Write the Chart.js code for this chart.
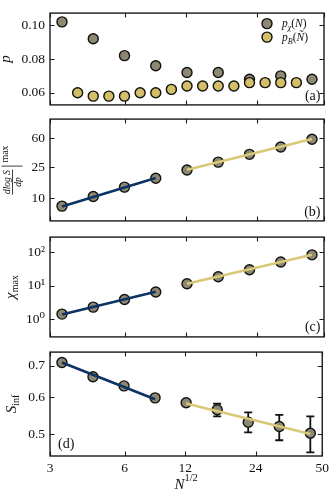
<!DOCTYPE html>
<html lang="en">
<head>
<meta charset="UTF-8">
<title>Finite-size scaling</title>
<style>
  body { margin: 0; background: #fff; }
  #wrap { position: relative; width: 333px; height: 496px; overflow: hidden; }
  .panel { position: absolute; left: 0; width: 333px; }
  .panel canvas { display: block; }
</style>
</head>
<body>
<div id="wrap">
  <div class="panel" style="top:0px"><canvas id="chartA" width="333" height="118"></canvas></div>
  <div class="panel" style="top:106px"><canvas id="chartB" width="333" height="128"></canvas></div>
  <div class="panel" style="top:224px"><canvas id="chartC" width="333" height="126"></canvas></div>
  <div class="panel" style="top:339px"><canvas id="chartD" width="333" height="157"></canvas></div>
</div>
<script src="https://cdn.jsdelivr.net/npm/chart.js"></script>
<script>
// position of each system size along the (hand-labelled) N^1/2 axis
const sizePos = [0, 1, 2, 3, 4, 5, 6, 7, 8];
const sizePosB = [0.5, 1, 1.5, 2, 2.5, 3, 3.5, 4, 4.5, 5, 5.5, 6, 6.5, 7, 7.5];
const xTickLabels = ['3', '6', '12', '24', '50'];
const xTickAt = [-0.384, 2.02, 3.97, 6.24, 8.384];

const pChi = [0.102, 0.092, 0.082, 0.076, 0.072, 0.072, 0.068, 0.070, 0.068];
const pB = [0.060, 0.058, 0.058, 0.058, 0.060, 0.060, 0.062, 0.064, 0.064, 0.064, 0.064, 0.066, 0.066, 0.066, 0.066];
const dlogS = [7.9, 10.5, 13.9, 18.1, 23.2, 29.3, 37.0, 46.0, 58.0];
const chiMax = [1.43, 2.3, 3.9, 6.5, 11.4, 18.5, 29.7, 50.4, 82.6];
const sInf = [0.711, 0.663, 0.634, 0.598, 0.584, 0.564, 0.531, 0.520, 0.503];
const sInfLow = [null, null, null, null, null, 0.546, 0.505, 0.486, 0.458];
const sInfHigh = [null, null, null, null, null, 0.581, 0.557, 0.550, 0.546];

// power-law fits, small and large sizes
const fitSmallX = [0, 3];
const fitLargeX = [4, 8];
const dlogSFitSmall = [7.8, 18.3];
const dlogSFitLarge = [23.4, 58.5];
const chiFitSmall = [1.38, 6.6];
const chiFitLarge = [11.4, 82.6];
const sInfFitSmall = [0.711, 0.594];
const sInfFitLarge = [0.582, 0.501];

const yTicksA = [0.06, 0.08, 0.10];
const yLabelsA = ['0.06', '0.08', '0.10'];
const yTicksB = [10, 25, 60];
const yLabelsB = ['10', '25', '60'];
const yTicksC = [1, 10, 100];
const yLabelsC = ['10\u2070', '10\u00b9', '10\u00b2'];
const yTicksD = [0.5, 0.6, 0.7];
const yLabelsD = ['0.5', '0.6', '0.7'];

const GRAY = '#8e8873';
const YELLOW = '#d3bf68';
const BLUE = '#0b3364';
const FITYEL = '#d8c877';
const INK = '#111';
const SERIF = '"Liberation Serif", "DejaVu Serif", serif';

const pts = (xs, ys) => xs.map((x, i) => ({ x: x, y: ys[i] }));

function markers(data, color, order) {
    return { data: data, backgroundColor: color, borderColor: INK, borderWidth: 1.4, pointRadius: 5, order: order };
}
function fitLine(data, color) {
    return { data: data, showLine: true, borderColor: color, borderWidth: 2.6, pointRadius: 0, order: 0 };
}

function runs(ctx, parts, x, y, align) {
    let w = 0;
    parts.forEach(p => { ctx.font = p[1]; w += ctx.measureText(p[0]).width; });
    let cx = align === 'center' ? x - w / 2 : (align === 'right' ? x - w : x);
    ctx.textAlign = 'left';
    ctx.textBaseline = 'alphabetic';
    parts.forEach(p => {
        ctx.font = p[1];
        ctx.fillText(p[0], cx, y + (p[2] || 0));
        cx += ctx.measureText(p[0]).width;
    });
}

function vtitle(ctx, cx, cy, parts) {
    ctx.save();
    ctx.translate(cx, cy);
    ctx.rotate(-Math.PI / 2);
    runs(ctx, parts, 0, 0, 'center');
    ctx.restore();
}

function panelLabel(ctx, text, x, y, align) {
    ctx.font = '14px ' + SERIF;
    ctx.textAlign = align;
    ctx.textBaseline = 'middle';
    ctx.fillText(text, x, y);
}

function decor(cfg) {
    return {
        id: 'decor',
        beforeDatasetsDraw(chart) {
            if (cfg.errors) cfg.errors(chart);
        },
        afterDatasetsDraw(chart) {
            const ctx = chart.ctx, a = chart.chartArea;
            const x = chart.scales.x, y = chart.scales.y;
            ctx.save();
            ctx.strokeStyle = '#1a1a1a';
            ctx.lineWidth = 1.4;
            ctx.strokeRect(a.left, a.top, a.width, a.height);
            ctx.lineWidth = 1.1;
            ctx.beginPath();
            xTickAt.forEach(v => {
                const px = Math.round(x.getPixelForValue(v)) + 0.5;
                ctx.moveTo(px, a.top); ctx.lineTo(px, a.top + 4.5);
                ctx.moveTo(px, a.bottom); ctx.lineTo(px, a.bottom - 4.5);
            });
            cfg.yTicks.forEach(v => {
                const py = Math.round(y.getPixelForValue(v)) + 0.5;
                ctx.moveTo(a.left, py); ctx.lineTo(a.left + 4.5, py);
                ctx.moveTo(a.right, py); ctx.lineTo(a.right - 4.5, py);
            });
            ctx.stroke();
            ctx.fillStyle = INK;
            ctx.strokeStyle = INK;
            cfg.text(ctx, a);
            ctx.restore();
        }
    };
}

function panel(id, cfg) {
    return new Chart(document.getElementById(id), {
        type: 'scatter',
        data: { datasets: cfg.datasets },
        options: {
            responsive: false,
            animation: false,
            layout: { padding: { left: 0, right: 9, top: cfg.padTop, bottom: cfg.last ? 0 : 10 } },
            plugins: { legend: { display: false }, tooltip: { enabled: false } },
            scales: {
                x: {
                    type: 'linear',
                    min: xTickAt[0],
                    max: xTickAt[xTickAt.length - 1],
                    display: !!cfg.last,
                    grid: { display: false, drawTicks: false },
                    border: { display: false },
                    afterBuildTicks: s => { s.ticks = xTickAt.map(v => ({ value: v })); },
                    afterFit: s => { s.height = cfg.last ? 40 : 0; },
                    ticks: {
                        autoSkip: false, maxRotation: 0, padding: 4, color: INK,
                        font: { family: SERIF, size: 13.5 },
                        callback: (v, i) => xTickLabels[i]
                    }
                },
                y: {
                    type: cfg.yType,
                    min: cfg.yMin,
                    max: cfg.yMax,
                    grid: { display: false, drawTicks: false },
                    border: { display: false },
                    afterBuildTicks: s => { s.ticks = cfg.yTicks.map(v => ({ value: v })); },
                    afterFit: s => { s.width = 50; },
                    ticks: {
                        padding: 5, color: INK,
                        font: { family: SERIF, size: 13.5 },
                        callback: (v, i) => cfg.yLabels[i]
                    }
                }
            }
        },
        plugins: [decor(cfg)]
    });
}

const IT = s => 'italic ' + s + 'px ' + SERIF;
const UP = s => s + 'px ' + SERIF;

// (a) transition points
panel('chartA', {
    padTop: 2, yType: 'linear', yMin: 0.0528, yMax: 0.1072,
    yTicks: yTicksA, yLabels: yLabelsA,
    datasets: [
        markers(pts(sizePosB, pB), YELLOW, 0),
        markers(pts(sizePos, pChi), GRAY, 1)
    ],
    text(ctx, a) {
        vtitle(ctx, 9.5, (a.top + a.bottom) / 2, [['p', IT(15)]]);
        panelLabel(ctx, '(a)', a.right - 3.5, a.bottom - 8.5, 'right');
        const lx = a.right - 57;
        [[a.top + 10.5, GRAY], [a.top + 24, YELLOW]].forEach(r => {
            ctx.beginPath();
            ctx.arc(lx, r[0], 5, 0, Math.PI * 2);
            ctx.fillStyle = r[1];
            ctx.fill();
            ctx.lineWidth = 1.4;
            ctx.stroke();
        });
        ctx.fillStyle = INK;
        runs(ctx, [['p', IT(11.5)], ['\u03c7', IT(8), 3], ['(', UP(11.5)], ['N', IT(11.5)], [')', UP(11.5)]], lx + 15, a.top + 14, 'left');
        runs(ctx, [['p', IT(11.5)], ['B', IT(8), 3], ['(', UP(11.5)], ['\u00d1', IT(11.5)], [')', UP(11.5)]], lx + 15, a.top + 27.5, 'left');
    }
});

// (b) max slope of log S
panel('chartB', {
    padTop: 10, yType: 'logarithmic', yMin: 5.08, yMax: 105.8,
    yTicks: yTicksB, yLabels: yLabelsB,
    datasets: [
        fitLine(pts(fitSmallX, dlogSFitSmall), BLUE),
        fitLine(pts(fitLargeX, dlogSFitLarge), FITYEL),
        markers(pts(sizePos, dlogS), GRAY, 1)
    ],
    text(ctx, a) {
        ctx.save();
        ctx.translate(12.5, (a.top + a.bottom) / 2);
        ctx.rotate(-Math.PI / 2);
        ctx.textBaseline = 'alphabetic';
        ctx.font = IT(9.5);
        const wNum = ctx.measureText('dlog S').width;
        const wDen = ctx.measureText('dp').width;
        ctx.font = UP(10);
        const wMax = ctx.measureText('max').width;
        const fw = Math.max(wNum, wDen) + 1;
        const x0 = -(fw + 7 + wMax) / 2;
        ctx.textAlign = 'center';
        ctx.font = IT(9.5);
        ctx.fillText('dlog S', x0 + fw / 2, -2.5);
        ctx.fillText('dp', x0 + fw / 2, 8.5);
        ctx.lineWidth = 0.8;
        ctx.beginPath();
        ctx.moveTo(x0, 0); ctx.lineTo(x0 + fw, 0);
        ctx.moveTo(x0 + fw + 3.5, -11); ctx.lineTo(x0 + fw + 3.5, 10);
        ctx.stroke();
        ctx.textAlign = 'left';
        ctx.font = UP(10);
        ctx.fillText('max', x0 + fw + 7, -5);
        ctx.restore();
        panelLabel(ctx, '(b)', a.right - 3.5, a.bottom - 9, 'right');
    }
});

// (c) susceptibility peak
panel('chartC', {
    padTop: 10, yType: 'logarithmic', yMin: 0.316, yMax: 278,
    yTicks: yTicksC, yLabels: yLabelsC,
    datasets: [
        fitLine(pts(fitSmallX, chiFitSmall), BLUE),
        fitLine(pts(fitLargeX, chiFitLarge), FITYEL),
        markers(pts(sizePos, chiMax), GRAY, 1)
    ],
    text(ctx, a) {
        vtitle(ctx, 15, (a.top + a.bottom) / 2, [['\u03c7', IT(15)], ['max', UP(10), 3]]);
        panelLabel(ctx, '(c)', a.right - 3.5, a.bottom - 9.5, 'right');
    }
});

// (d) S at the inflection point
panel('chartD', {
    padTop: 10, last: true, yType: 'logarithmic', yMin: 0.4527, yMax: 0.748,
    yTicks: yTicksD, yLabels: yLabelsD,
    datasets: [
        fitLine(pts(fitSmallX, sInfFitSmall), BLUE),
        fitLine(pts(fitLargeX, sInfFitLarge), FITYEL),
        markers(pts(sizePos, sInf), GRAY, 1)
    ],
    errors(chart) {
        const ctx = chart.ctx, x = chart.scales.x, y = chart.scales.y;
        ctx.save();
        ctx.strokeStyle = INK;
        ctx.lineWidth = 1.8;
        ctx.beginPath();
        sizePos.forEach((u, i) => {
            if (sInfLow[i] === null) return;
            const px = x.getPixelForValue(u);
            const y1 = y.getPixelForValue(sInfLow[i]);
            const y2 = y.getPixelForValue(sInfHigh[i]);
            ctx.moveTo(px, y1); ctx.lineTo(px, y2);
            ctx.moveTo(px - 4, y1); ctx.lineTo(px + 4, y1);
            ctx.moveTo(px - 4, y2); ctx.lineTo(px + 4, y2);
        });
        ctx.stroke();
        ctx.restore();
    },
    text(ctx, a) {
        vtitle(ctx, 16, (a.top + a.bottom) / 2, [['S', IT(15)], ['inf', UP(10), 3]]);
        panelLabel(ctx, '(d)', a.left + 8, a.bottom - 11.5, 'left');
        runs(ctx, [['N', IT(15)], ['1/2', UP(10.5), -8]], (a.left + a.right) / 2, a.bottom + 33, 'center');
    }
});
</script>
</body>
</html>
